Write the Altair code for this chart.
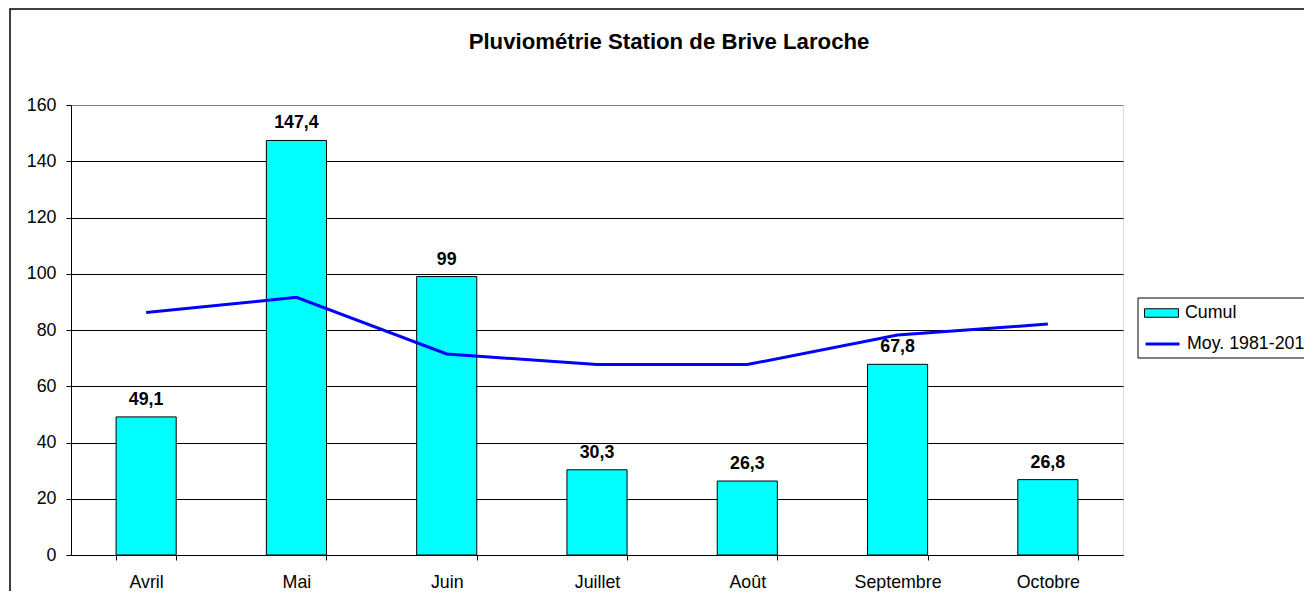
import altair as alt
import pandas as pd

# ---- data ----
mois = ["Avril", "Mai", "Juin", "Juillet", "Août", "Septembre", "Octobre"]
cumul = [49.1, 147.4, 99, 30.3, 26.3, 67.8, 26.8]
moyenne = [86.2, 91.6, 71.5, 67.7, 67.7, 78.2, 82.1]
serie_bar = "Cumul"
serie_line = "Moy. 1981-2010"
titre = "Pluviométrie Station de Brive Laroche"
y_ticks = [0, 20, 40, 60, 80, 100, 120, 140, 160]

bars_df = pd.DataFrame({
    "mois": mois,
    "valeur": cumul,
    "serie": serie_bar,
    "label": [f"{v:g}".replace(".", ",") for v in cumul],
})
line_df = pd.DataFrame({"mois": mois, "valeur": moyenne, "serie": serie_line})
frame_df = pd.DataFrame({"k": [0]})

FONT = "Liberation Sans"
FS = 17.8

x_enc = alt.X(
    "mois:N",
    sort=mois,
    scale=alt.Scale(paddingInner=0.6, paddingOuter=0.3),
    axis=alt.Axis(
        title=None, labelAngle=0, tickBand="extent", grid=False,
        tickSize=5, labelPadding=13, domainColor="black", tickColor="black",
        labelFontSize=FS, labelColor="black", labelFont=FONT,
    ),
)
y_enc = alt.Y(
    "valeur:Q",
    scale=alt.Scale(domain=[0, 160], nice=False),
    axis=alt.Axis(
        title=None, values=y_ticks, grid=True,
        gridColor={"condition": {"test": "datum.value === 160", "value": "#808080"}, "value": "black"},
        gridWidth=1, tickSize=5, labelPadding=10, domainColor="black",
        tickColor="black", labelFontSize=FS, labelColor="black", labelFont=FONT,
    ),
)

common_legend = dict(
    title=None, orient="none", padding=0, symbolSize=289, labelOffset=14.5,
    labelFontSize=FS, labelFont=FONT, labelColor="black", labelLimit=400,
)
fill_enc = alt.Fill(
    "serie:N",
    scale=alt.Scale(domain=[serie_bar], range=["#00FFFF"]),
    legend=alt.Legend(
        legendX=1081.5, legendY=199, symbolType="M-2,-0.5H2V0.5H-2Z",
        symbolStrokeColor="black", symbolStrokeWidth=1, symbolFillColor="#00FFFF",
        **common_legend,
    ),
)
stroke_enc = alt.Stroke(
    "serie:N",
    scale=alt.Scale(domain=[serie_line], range=["#0000FF"]),
    legend=alt.Legend(
        legendX=1081.5, legendY=229, symbolType="M-2,0H2",
        symbolStrokeWidth=3, symbolFillColor="transparent",
        **common_legend,
    ),
)

frame = alt.Chart(frame_df).mark_rect(
    filled=False, stroke="black", strokeWidth=1.5
).encode(
    x=alt.value(-61), x2=alt.value(1400), y=alt.value(-96), y2=alt.value(700)
)
legend_box = alt.Chart(frame_df).mark_rect(
    filled=False, stroke="black", strokeWidth=1
).encode(
    x=alt.value(1067), x2=alt.value(1400), y=alt.value(193), y2=alt.value(253)
)

title_txt = alt.Chart(frame_df).mark_text(
    text=titre, font=FONT, fontSize=22.2, fontWeight="bold", color="black",
    align="center", baseline="alphabetic",
).encode(x=alt.value(598), y=alt.value(-56))

bars = alt.Chart(bars_df).mark_bar(stroke="black", strokeWidth=1).encode(
    x=x_enc, y=y_enc, fill=fill_enc
)
labels = alt.Chart(bars_df).mark_text(
    font=FONT, fontSize=FS, fontWeight="bold", color="black",
    baseline="alphabetic", dy=-12,
).encode(x=alt.X("mois:N", sort=mois), y="valeur:Q", text="label:N")
line = alt.Chart(line_df).mark_line(strokeWidth=3).encode(
    x=alt.X("mois:N", sort=mois), y="valeur:Q", stroke=stroke_enc
)

chart = alt.layer(frame, legend_box, title_txt, bars, line, labels).properties(
    width=1052, height=450,
    autosize=alt.AutoSizeParams(type="none"),
    padding={"left": 63, "top": 97, "right": 181, "bottom": 36},
    background="white",
).configure_view(stroke="#808080", strokeWidth=1).configure(font=FONT)

chart.save("out.html", embed_options={"renderer": "svg", "actions": False})
